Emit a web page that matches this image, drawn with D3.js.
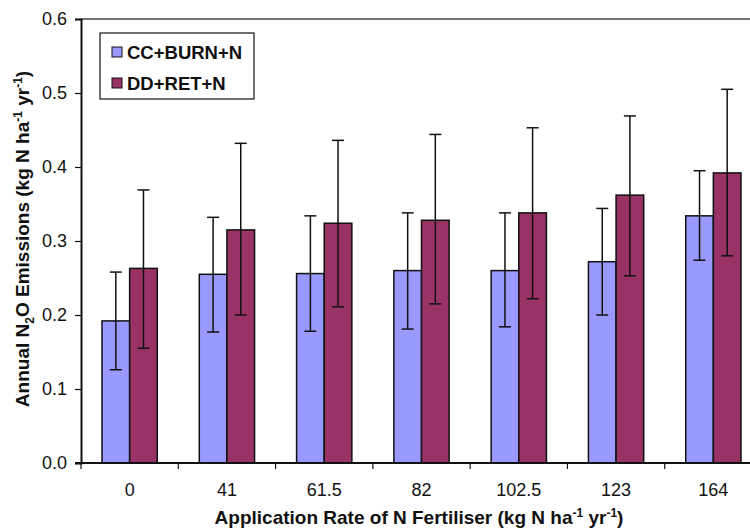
<!DOCTYPE html>
<html>
<head>
<meta charset="utf-8">
<script src="https://cdn.jsdelivr.net/npm/d3@7"></script>
<style>
  body { margin: 0; background: #fff; }
  svg { display: block; font-family: "Liberation Sans", Arial, sans-serif; }
</style>
</head>
<body>
<div id="chart"></div>
<script>
// N rates (x categories)
const rates = ["0", "41", "61.5", "82", "102.5", "123", "164"];
const seriesNames = ["CC+BURN+N", "DD+RET+N"];
const seriesColors = ["#9999FF", "#993366"];

// mean values and error bar ends
const ccMean = [0.192, 0.255, 0.256, 0.260, 0.260, 0.272, 0.334];
const ccHigh = [0.258, 0.332, 0.334, 0.338, 0.338, 0.344, 0.395];
const ccLow  = [0.126, 0.177, 0.178, 0.181, 0.184, 0.200, 0.274];
const ddMean = [0.263, 0.315, 0.324, 0.328, 0.338, 0.362, 0.392];
const ddHigh = [0.369, 0.432, 0.436, 0.444, 0.453, 0.469, 0.505];
const ddLow  = [0.155, 0.200, 0.211, 0.215, 0.222, 0.253, 0.280];

const yTicks = [0, 0.1, 0.2, 0.3, 0.4, 0.5, 0.6];

const width = 750, height = 532;
const margin = { top: 19, left: 81, bottom: 69 };
const innerWidth = 681;   // plot is wider than the picture, right side gets cut
const visibleWidth = width - margin.left;
const innerHeight = height - margin.top - margin.bottom;

const svg = d3.select("#chart").append("svg")
  .attr("width", width)
  .attr("height", height);

const g = svg.append("g")
  .attr("transform", `translate(${margin.left}, ${margin.top})`);

const x = d3.scaleBand().domain(rates).range([0, innerWidth]).paddingInner(0).paddingOuter(0);
const xs = d3.scaleBand().domain(seriesNames).range([0, x.bandwidth()]).paddingInner(0).paddingOuter(0.76);
const y = d3.scaleLinear().domain([0, 0.6]).range([innerHeight, 0]);

// top border of plot area
g.append("line")
  .attr("x1", 0).attr("x2", visibleWidth)
  .attr("y1", 0).attr("y2", 0)
  .attr("stroke", "#444").attr("stroke-width", 1.5);

const data = rates.map((r, i) => ({
  rate: r,
  vals: [
    { s: seriesNames[0], mean: ccMean[i], lo: ccLow[i], hi: ccHigh[i], c: seriesColors[0] },
    { s: seriesNames[1], mean: ddMean[i], lo: ddLow[i], hi: ddHigh[i], c: seriesColors[1] }
  ]
}));

const groups = g.selectAll(".grp")
  .data(data)
  .join("g")
  .attr("class", "grp")
  .attr("transform", d => `translate(${x(d.rate)}, 0)`);

// bars
groups.selectAll("rect")
  .data(d => d.vals)
  .join("rect")
  .attr("x", d => xs(d.s))
  .attr("y", d => y(d.mean))
  .attr("width", xs.bandwidth())
  .attr("height", d => y(0) - y(d.mean))
  .attr("fill", d => d.c)
  .attr("stroke", "#111")
  .attr("stroke-width", 1.5);

// error bars
const eb = groups.selectAll(".err")
  .data(d => d.vals)
  .join("g")
  .attr("class", "err")
  .attr("transform", d => `translate(${xs(d.s) + xs.bandwidth() / 2}, 0)`);

eb.append("line")
  .attr("x1", 0).attr("x2", 0)
  .attr("y1", d => y(d.lo)).attr("y2", d => y(d.hi))
  .attr("stroke", "#111").attr("stroke-width", 1.5);
eb.append("line")
  .attr("x1", -6).attr("x2", 6)
  .attr("y1", d => y(d.hi)).attr("y2", d => y(d.hi))
  .attr("stroke", "#111").attr("stroke-width", 1.5);
eb.append("line")
  .attr("x1", -6).attr("x2", 6)
  .attr("y1", d => y(d.lo)).attr("y2", d => y(d.lo))
  .attr("stroke", "#111").attr("stroke-width", 1.5);

// y axis
const yAxis = g.append("g")
  .call(d3.axisLeft(y).tickValues(yTicks).tickFormat(d3.format(".1f")).tickSize(6).tickPadding(8));
yAxis.select(".domain").attr("stroke", "#111").attr("stroke-width", 2);
yAxis.selectAll(".tick line").attr("stroke", "#111").attr("stroke-width", 1.2);
yAxis.selectAll("text").attr("font-size", 18).attr("fill", "#111").attr("font-family", "Liberation Sans, Arial, sans-serif");

// x axis: baseline with ticks at band boundaries
const xAxis = g.append("g").attr("transform", `translate(0, ${innerHeight})`);
xAxis.append("line")
  .attr("x1", -6).attr("x2", visibleWidth)
  .attr("stroke", "#111").attr("stroke-width", 2);
xAxis.selectAll(".xt")
  .data(rates)
  .join("line")
  .attr("class", "xt")
  .attr("x1", d => x(d)).attr("x2", d => x(d))
  .attr("y1", 0).attr("y2", 6)
  .attr("stroke", "#111").attr("stroke-width", 1.2);
xAxis.selectAll(".xl")
  .data(rates)
  .join("text")
  .attr("class", "xl")
  .attr("x", d => x(d) + x.bandwidth() / 2)
  .attr("y", 33)
  .attr("text-anchor", "middle")
  .attr("font-size", 18)
  .attr("fill", "#111")
  .text(d => d);

// x axis title
const xt = svg.append("text")
  .attr("x", 419)
  .attr("y", 524)
  .attr("text-anchor", "middle")
  .attr("font-size", 19)
  .attr("font-weight", "bold")
  .attr("fill", "#111");
xt.append("tspan").text("Application Rate of N Fertiliser (kg N ha");
xt.append("tspan").attr("dy", -7).attr("font-size", 12).text("-1");
xt.append("tspan").attr("dy", 7).text(" yr");
xt.append("tspan").attr("dy", -7).attr("font-size", 12).text("-1");
xt.append("tspan").attr("dy", 7).text(")");

// y axis title
const yt = svg.append("text")
  .attr("transform", "rotate(-90)")
  .attr("x", -239)
  .attr("y", 29)
  .attr("text-anchor", "middle")
  .attr("font-size", 19)
  .attr("font-weight", "bold")
  .attr("fill", "#111");
yt.append("tspan").text("Annual N");
yt.append("tspan").attr("dy", 5).attr("font-size", 12).text("2");
yt.append("tspan").attr("dy", -5).text("O Emissions (kg N ha");
yt.append("tspan").attr("dy", -7).attr("font-size", 12).text("-1");
yt.append("tspan").attr("dy", 7).text(" yr");
yt.append("tspan").attr("dy", -7).attr("font-size", 12).text("-1");
yt.append("tspan").attr("dy", 7).text(")");

// legend
const legend = svg.append("g").attr("transform", "translate(100, 33)");
legend.append("rect")
  .attr("width", 154).attr("height", 66)
  .attr("fill", "#fff").attr("stroke", "#111").attr("stroke-width", 1.2);
const li = legend.selectAll(".li")
  .data(seriesNames)
  .join("g")
  .attr("class", "li")
  .attr("transform", (d, i) => `translate(12, ${19 + i * 31})`);
li.append("rect")
  .attr("x", 0).attr("y", -5)
  .attr("width", 10).attr("height", 10)
  .attr("fill", (d, i) => seriesColors[i])
  .attr("stroke", "#111").attr("stroke-width", 1);
li.append("text")
  .attr("x", 15).attr("y", 6.5)
  .attr("font-size", 18.5)
  .attr("font-weight", "bold")
  .attr("fill", "#111")
  .text(d => d);
</script>
</body>
</html>
